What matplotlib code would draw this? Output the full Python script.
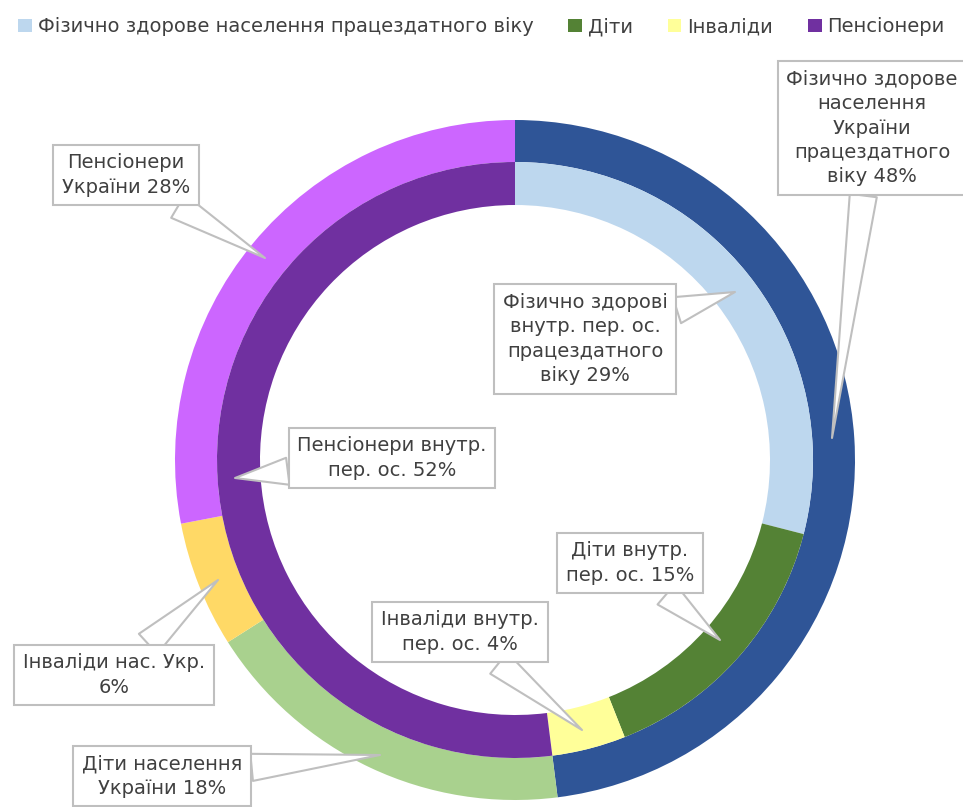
import matplotlib
matplotlib.use("Agg")
import matplotlib.pyplot as plt
from matplotlib.patches import Patch

plt.rcParams['font.family'] = ['Liberation Sans Narrow', 'DejaVu Sans']

# Дані
categories = ['Фізично здорове населення працездатного віку', 'Діти', 'Інваліди', 'Пенсіонери']
outer_values = [48, 18, 6, 28]   # населення України
inner_values = [29, 15, 4, 52]   # внутрішньо переміщені особи
outer_labels = ['Фізично здорове\nнаселення\nУкраїни\nпрацездатного\nвіку 48%',
                'Діти населення\nУкраїни 18%',
                'Інваліди нас. Укр.\n6%',
                'Пенсіонери\nУкраїни 28%']
inner_labels = ['Фізично здорові\nвнутр. пер. ос.\nпрацездатного\nвіку 29%',
                'Діти внутр.\nпер. ос. 15%',
                'Інваліди внутр.\nпер. ос. 4%',
                'Пенсіонери внутр.\nпер. ос. 52%']

outer_colors = ['#2F5597', '#A9D18E', '#FFD966', '#CC66FF']
inner_colors = ['#BDD7EE', '#548235', '#FFFF99', '#7030A0']

W, H = 963, 807
fig = plt.figure(figsize=(W / 100, H / 100), dpi=100)
ax = fig.add_axes([0, 0, 1, 1])

cx, cy = 515, H - 460
ax.pie(outer_values, radius=340, center=(cx, cy), startangle=90, counterclock=False,
       colors=outer_colors, wedgeprops=dict(width=42, edgecolor='none'), frame=True)
ax.pie(inner_values, radius=298, center=(cx, cy), startangle=90, counterclock=False,
       colors=inner_colors, wedgeprops=dict(width=43, edgecolor='none'), frame=True)
ax.set_xlim(0, W)
ax.set_ylim(0, H)
ax.axis('off')

# позиції підписів (піксели зображення: точка, центр рамки)
outer_pos = [((832, 438), (872, 128)),
             ((380, 755), (162, 776)),
             ((218, 580), (114, 675)),
             ((265, 258), (126, 175))]
inner_pos = [((735, 292), (585, 339)),
             ((720, 640), (630, 563)),
             ((582, 730), (460, 632)),
             ((235, 478), (392, 458))]

txt_color = '#404040'
for labels, positions in ((outer_labels, outer_pos), (inner_labels, inner_pos)):
    for lab, (pt, box) in zip(labels, positions):
        ax.annotate(lab, xy=(pt[0], H - pt[1]), xytext=(box[0], H - box[1]),
                    ha='center', va='center', multialignment='center',
                    fontsize=14, color=txt_color, linespacing=1.35,
                    bbox=dict(boxstyle='square,pad=0.45', fc='white', ec='#BFBFBF', lw=1.5),
                    arrowprops=dict(arrowstyle='wedge,tail_width=1.4', fc='white',
                                    ec='#BFBFBF', lw=1.5, shrinkA=0, shrinkB=0))

handles = [Patch(facecolor=c, edgecolor='none') for c in inner_colors]
fig.legend(handles, categories, loc='upper center', bbox_to_anchor=(0.5, 1.0),
           ncol=4, frameon=False, fontsize=14, handlelength=0.7, handleheight=0.7,
           handletextpad=0.3, columnspacing=1.8, labelcolor=txt_color)

fig.savefig('out.png', dpi=100)
